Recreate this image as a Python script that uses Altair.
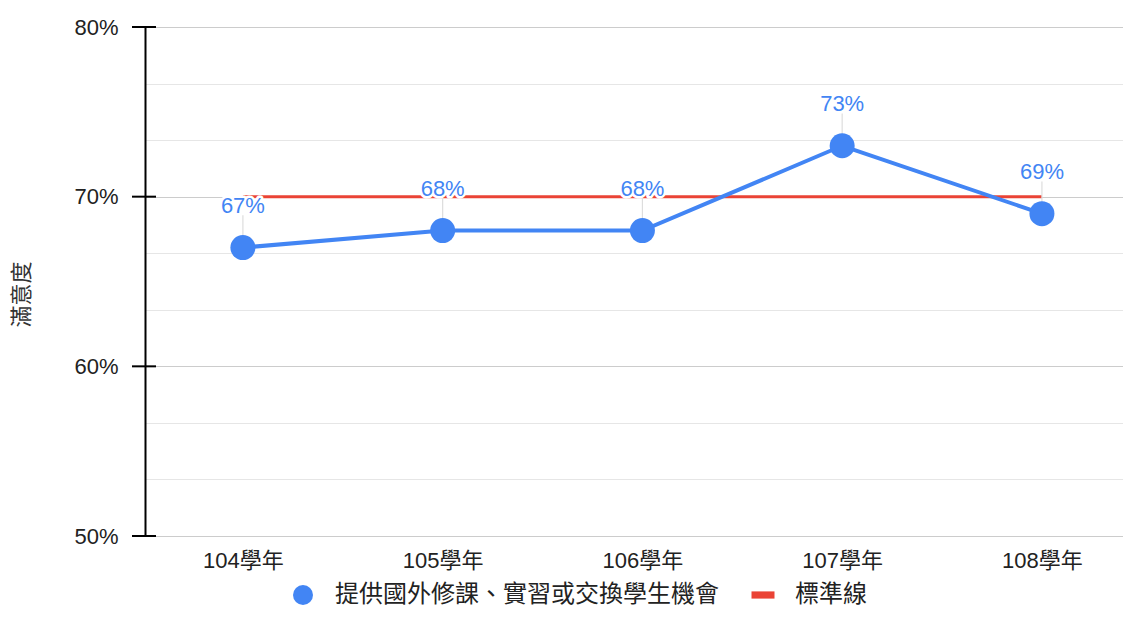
import altair as alt
import pandas as pd

years = ["104學年", "105學年", "106學年", "107學年", "108學年"]
satisfaction = [67, 68, 68, 73, 69]
standard = [70, 70, 70, 70, 70]
series_name = "提供國外修課、實習或交換學生機會"
std_name = "標準線"
y_grid_values = [50, 53.333, 56.667, 60, 63.333, 66.667, 70, 73.333, 76.667, 80]
y_major_ticks = [50, 60, 70, 80]
y_title = "滿意度"

FONT = "Liberation Sans, Arial, Noto Sans CJK TC, sans-serif"
BLUE = "#4285F4"
RED = "#EA4335"

df = pd.DataFrame({"year": years, "value": satisfaction, "series": series_name})
df["stem_top"] = df["value"] + 1.9
df["label"] = df["value"].astype(str) + "%"
df_std = pd.DataFrame({"year": years, "value": standard, "series": std_name})
df_ticks = pd.DataFrame({"v": y_major_ticks})

x_enc = alt.X(
    "year:N",
    sort=years,
    scale=alt.Scale(type="point", padding=0.448, align=0.547),
    axis=alt.Axis(
        title=None, domain=False, ticks=False, grid=False,
        labelFont=FONT, labelFontSize=22, labelColor="#222222",
        labelPadding=14, labelAngle=0,
    ),
)
y_scale = alt.Scale(domain=[50, 80], nice=False, zero=False)
y_axis = alt.Axis(
    title=y_title,
    values=y_grid_values,
    labelExpr="abs(datum.value % 10) < 0.01 ? datum.value + '%' : ''",
    labelFont=FONT, labelFontSize=22, labelColor="#222222",
    labelPadding=27, ticks=False,
    domain=True, domainColor="#000000", domainWidth=2,
    grid=True,
    gridColor={"condition": {"test": "abs(datum.value % 10) < 0.01", "value": "#cccccc"}, "value": "#e6e6e6"},
    gridWidth=1.2,
    titleFont=FONT, titleFontSize=22, titleFontWeight="normal", titleColor="#333333",
    titlePadding=40, titleY=267,
)

legend_cfg = dict(
    title=None, orient="none", direction="horizontal",
    legendX=146, legendY=556,
    labelFont=FONT, labelFontSize=24, labelColor="#222222", labelLimit=0,
    labelOffset=20, columnPadding=32, symbolSize=400,
    symbolStrokeWidth=0, symbolOpacity=1,
)

base = alt.Chart(df)

grid_layer = alt.Chart(df).mark_point(opacity=0).encode(
    x=x_enc, y=alt.Y("value:Q", scale=y_scale, axis=y_axis)
)

tick_layer = alt.Chart(df_ticks).mark_rule(color="#000000", strokeWidth=2).encode(
    y=alt.Y("v:Q", scale=y_scale),
    x=alt.value(-13),
    x2=alt.value(11),
)

std_line = alt.Chart(df_std).mark_line(color=RED, strokeWidth=3).encode(
    x=alt.X("year:N", sort=years),
    y=alt.Y("value:Q", scale=y_scale),
)

stems = base.mark_rule(color="#dddddd", strokeWidth=1.2).encode(
    x=alt.X("year:N", sort=years),
    y=alt.Y("value:Q", scale=y_scale),
    y2="stem_top:Q",
)

blue_line = base.mark_line(color=BLUE, strokeWidth=4).encode(
    x=alt.X("year:N", sort=years),
    y=alt.Y("value:Q", scale=y_scale),
)

points = base.mark_point(filled=True, size=625, opacity=1).encode(
    x=alt.X("year:N", sort=years),
    y=alt.Y("value:Q", scale=y_scale),
    color=alt.Color(
        "series:N",
        scale=alt.Scale(domain=[series_name, std_name], range=[BLUE, RED]),
        legend=alt.Legend(**legend_cfg),
    ),
    shape=alt.Shape(
        "series:N",
        scale=alt.Scale(
            domain=[series_name, std_name],
            range=["circle", "M-1.15,-0.36L1.15,-0.36L1.15,0.36L-1.15,0.36Z"],
        ),
        legend=alt.Legend(**legend_cfg),
    ),
)

halo = base.mark_text(
    font=FONT, fontSize=22, dy=-35, baseline="alphabetic",
    stroke="white", strokeWidth=5, fill="white", strokeJoin="round",
).encode(
    x=alt.X("year:N", sort=years),
    y=alt.Y("value:Q", scale=y_scale),
    text="label:N",
)

labels = base.mark_text(
    font=FONT, fontSize=22, dy=-35, baseline="alphabetic", color=BLUE,
).encode(
    x=alt.X("year:N", sort=years),
    y=alt.Y("value:Q", scale=y_scale),
    text="label:N",
)

chart = alt.layer(
    grid_layer, std_line, stems, blue_line, points, halo, labels, tick_layer
).properties(
    width=978,
    height=509,
    autosize=alt.AutoSizeParams(type="none"),
    padding={"left": 137, "top": 19, "right": 0, "bottom": 71},
).configure_view(stroke=None)

chart.save("out.html", embed_options={"renderer": "svg", "actions": False})
